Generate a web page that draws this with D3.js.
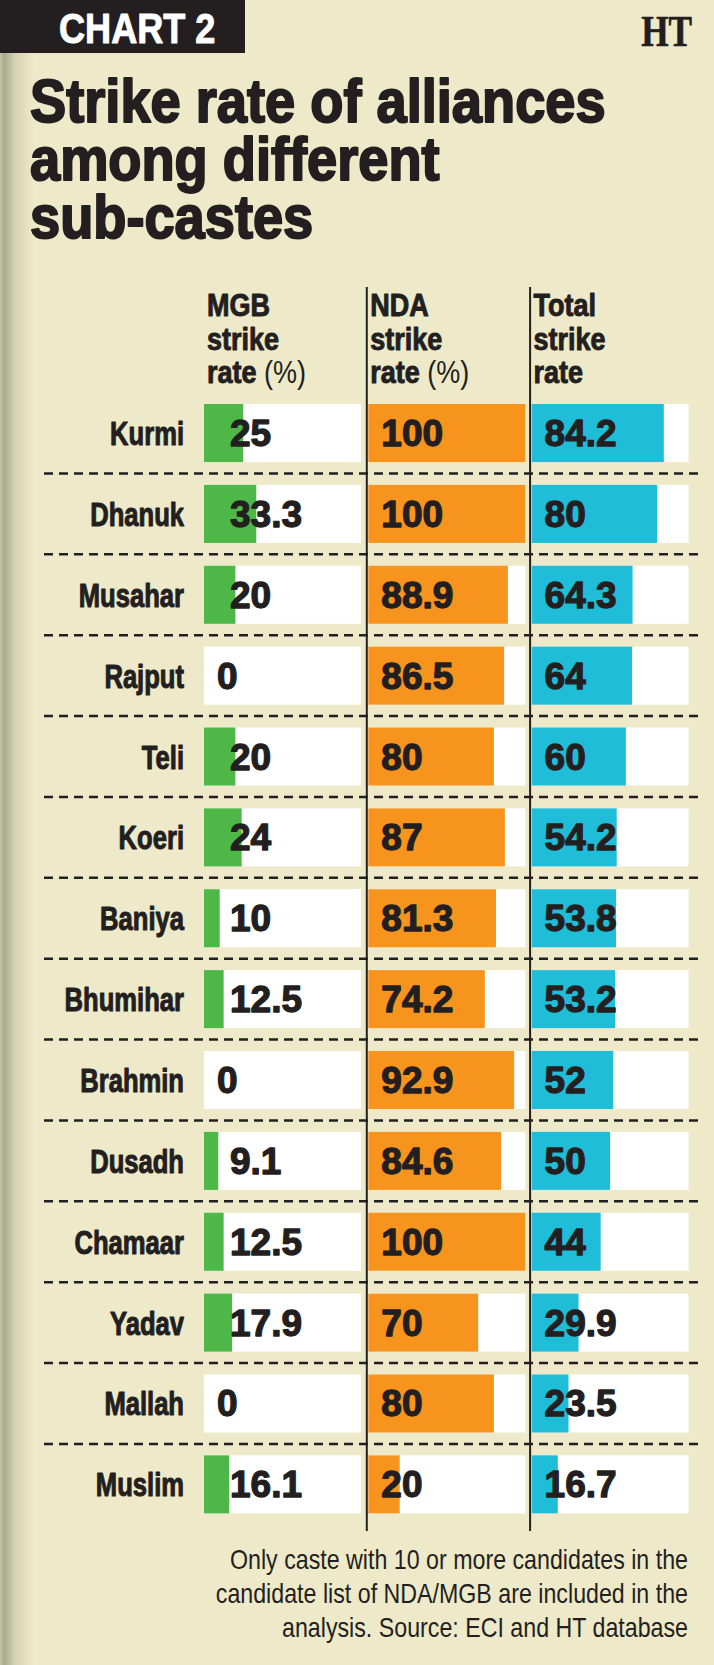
<!DOCTYPE html>
<html>
<head>
<meta charset="utf-8">
<script src="https://cdn.jsdelivr.net/npm/d3@7"></script>
<style>
  html, body { margin: 0; padding: 0; background: #eee9c8; }
  svg { display: block; }
  text { font-family: "Liberation Sans", Arial, sans-serif; }
</style>
</head>
<body>
<div id="chart"></div>
<script>
// strike rate of alliances, by sub-caste

var castes    = ["Kurmi", "Dhanuk", "Musahar", "Rajput", "Teli", "Koeri", "Baniya",
                 "Bhumihar", "Brahmin", "Dusadh", "Chamaar", "Yadav", "Mallah", "Muslim"];
var mgbRate   = [25, 33.3, 20, 0, 20, 24, 10, 12.5, 0, 9.1, 12.5, 17.9, 0, 16.1];
var ndaRate   = [100, 100, 88.9, 86.5, 80, 87, 81.3, 74.2, 92.9, 84.6, 100, 70, 80, 20];
var totalRate = [84.2, 80, 64.3, 64, 60, 54.2, 53.8, 53.2, 52, 50, 44, 29.9, 23.5, 16.7];

var seriesKeys  = ["mgb", "nda", "total"];
var seriesHeads = [["MGB", "strike", "rate", "(%)"],
                   ["NDA", "strike", "rate", "(%)"],
                   ["Total", "strike", "rate", ""]];
var titleLines  = ["Strike rate of alliances", "among different", "sub-castes"];
var noteLines   = ["Only caste with 10 or more candidates in the",
                   "candidate list of NDA/MGB are included in the",
                   "analysis. Source: ECI and HT database"];

var W = 714, H = 1665;
var ink = "#231f20";
var paper = "#eee9c8";
var colors = { mgb: "#4db848", nda: "#f7941e", total: "#1fbdd8" };

var svg = d3.select("#chart").append("svg")
    .attr("width", W)
    .attr("height", H)
    .attr("fill", ink);

// page background + fold shadow on the left
var grad = svg.append("defs").append("linearGradient")
    .attr("id", "fold").attr("x1", 0).attr("x2", 1);
grad.append("stop").attr("offset", 0).attr("stop-color", "#c4c4a8");
grad.append("stop").attr("offset", 0.12).attr("stop-color", "#a9aa8e");
grad.append("stop").attr("offset", 0.45).attr("stop-color", "#d6d4b5");
grad.append("stop").attr("offset", 1).attr("stop-color", paper);

svg.append("rect").attr("width", W).attr("height", H).attr("fill", paper);
svg.append("rect").attr("width", 34).attr("height", H).attr("fill", "url(#fold)");

// text squeezed horizontally (the print font is condensed); a thin stroke makes it heavier
function sText(sel, x, y, sx, str, size, weight, anchor, fill, sw, sy) {
  var t = sel.append("g")
      .attr("transform", "translate(" + x + "," + y + ") scale(" + sx + "," + (sy || 1) + ")")
    .append("text")
      .attr("font-size", size)
      .attr("font-weight", weight || "bold")
      .attr("text-anchor", anchor || "start")
      .style("fill", fill || ink)
      .text(str);
  if (sw) t.style("stroke", fill || ink).style("stroke-width", sw).style("stroke-linejoin", "round");
  return t;
}

// header tag
svg.append("rect").attr("x", 0).attr("y", 0).attr("width", 245).attr("height", 53).attr("fill", ink);
sText(svg, 59, 43, 0.84, "CHART 2", 43, "bold", "start", "#fff", 1);
sText(svg, 692, 46, 0.8, "HT", 44, "bold", "end", ink, 0.6)
    .style("font-family", "'Liberation Serif', 'DejaVu Serif', serif");

// title: one text block, one tspan per line
var title = sText(svg, 30, 122, 0.935, "", 58, "bold", "start", ink, 2, 1.04);
title.selectAll("tspan")
    .data(titleLines)
  .enter().append("tspan")
    .attr("x", 0)
    .attr("dy", function (d, i) { return i ? 56 : 0; })
    .text(function (d) { return d; });

// scales
var y = d3.scaleBand()
    .domain(castes)
    .range([392.6, 1524.8])
    .paddingInner(0.282)
    .paddingOuter(0.141);

var col = d3.scalePoint()
    .domain(seriesKeys)
    .range([204, 530.6]);

var x = d3.scaleLinear()
    .domain([0, 100])
    .range([0, 157]);

var rows = castes.map(function (c, i) {
  return { caste: c, mgb: mgbRate[i], nda: ndaRate[i], total: totalRate[i] };
});

// column headers
seriesKeys.forEach(function (k, i) {
  var hx = col(k) + 3;
  var h = seriesHeads[i];
  sText(svg, hx, 316, 0.9, h[0], 30, "bold", "start", ink, 0.9, 1.03);
  sText(svg, hx, 350, 0.9, h[1], 30, "bold", "start", ink, 0.9, 1.03);
  var g = svg.append("g")
      .attr("transform", "translate(" + hx + ",383) scale(0.9,1.03)");
  var t = g.append("text").attr("font-size", 30).style("fill", ink);
  t.append("tspan").attr("font-weight", "bold")
      .style("stroke", ink).style("stroke-width", 0.9)
      .text(h[2]);
  if (h[3]) t.append("tspan").attr("font-weight", "normal").text(" " + h[3]);
});

// dashed separators
svg.append("g").selectAll("line")
    .data(castes.slice(1))
  .enter().append("line")
    .attr("x1", 44).attr("x2", 699)
    .attr("y1", function (d) { return y(d) - y.step() * y.paddingInner() / 2; })
    .attr("y2", function (d) { return y(d) - y.step() * y.paddingInner() / 2; })
    .attr("stroke", ink)
    .attr("stroke-width", 2.5)
    .attr("stroke-dasharray", "9,6");

// vertical dividers
svg.append("g").selectAll("line")
    .data(seriesKeys.slice(1))
  .enter().append("line")
    .attr("x1", function (d) { return col(d) - 0.5; })
    .attr("x2", function (d) { return col(d) - 0.5; })
    .attr("y1", 287).attr("y2", 1531)
    .attr("stroke", ink)
    .attr("stroke-width", 2);

// rows
var row = svg.append("g").selectAll("g.row")
    .data(rows)
  .enter().append("g")
    .attr("class", "row")
    .attr("transform", function (d) { return "translate(0," + y(d.caste) + ")"; });

row.each(function (d) {
  var g = d3.select(this);
  var bh = y.bandwidth();

  sText(g, 184, bh / 2 + 12, 0.8, d.caste, 32, "bold", "end", ink, 1, 1.04);

  seriesKeys.forEach(function (k) {
    var cx = col(k) + (k === "mgb" ? 0 : 1);
    g.append("rect")
        .attr("x", cx).attr("y", 0)
        .attr("width", x(100)).attr("height", bh)
        .attr("fill", "#fff");
    g.append("rect")
        .attr("x", cx).attr("y", 0)
        .attr("width", x(d[k])).attr("height", bh)
        .attr("fill", colors[k]);
    var off = (k === "mgb" && d[k] > 0) ? 26 : 13;
    sText(g, cx + off, bh / 2 + 13, 1, d[k], 37, "bold", "start", ink, 1.3);
  });
});

// footnote
noteLines.forEach(function (t, i) {
  sText(svg, 688, 1569 + i * 34, 0.86, t, 27, "normal", "end");
});
</script>
</body>
</html>
